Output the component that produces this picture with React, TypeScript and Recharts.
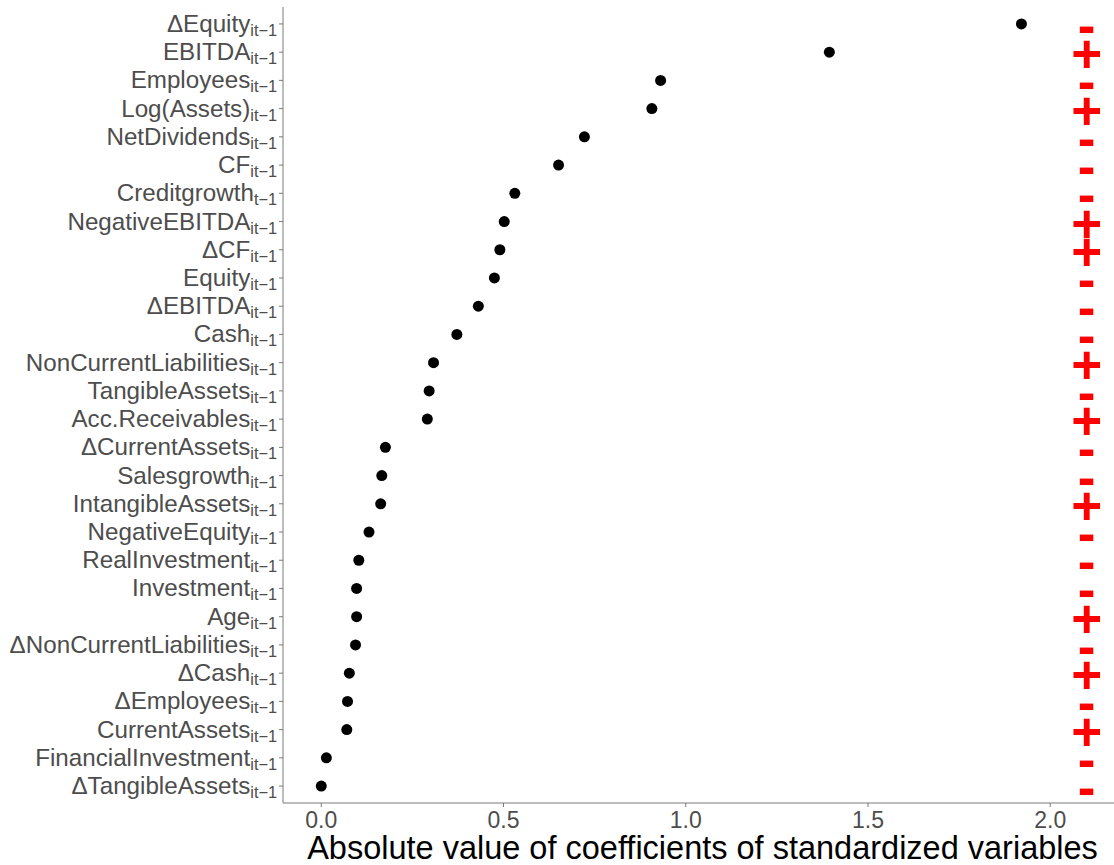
import React from 'react';
import { ScatterChart, Scatter, XAxis, YAxis } from 'recharts';

const labels = [
  'ΔEquity', 'EBITDA', 'Employees', 'Log(Assets)', 'NetDividends', 'CF', 'Creditgrowth',
  'NegativeEBITDA', 'ΔCF', 'Equity', 'ΔEBITDA', 'Cash', 'NonCurrentLiabilities', 'TangibleAssets',
  'Acc.Receivables', 'ΔCurrentAssets', 'Salesgrowth', 'IntangibleAssets', 'NegativeEquity',
  'RealInvestment', 'Investment', 'Age', 'ΔNonCurrentLiabilities', 'ΔCash', 'ΔEmployees',
  'CurrentAssets', 'FinancialInvestment', 'ΔTangibleAssets',
];

const subscripts = labels.map((l) => (l === 'Creditgrowth' ? 't−1' : 'it−1'));

const coefficients = [
  1.921, 1.394, 0.931, 0.907, 0.722, 0.651, 0.531, 0.502, 0.49, 0.475, 0.431, 0.372, 0.308, 0.296,
  0.291, 0.176, 0.166, 0.163, 0.131, 0.103, 0.097, 0.097, 0.094, 0.077, 0.072, 0.07, 0.014, 0.0,
];

const signs = [
  '-', '+', '-', '+', '-', '-', '-', '+', '+', '-', '-', '-', '+', '-',
  '+', '-', '-', '+', '-', '-', '-', '+', '-', '+', '-', '+', '-', '-',
];

const signX = 2.1;
const xTicks = [0, 0.5, 1, 1.5, 2];

const N = labels.length;
const dotData = coefficients.map((v, i) => ({ x: v, y: N - i }));
const signData = signs.map((s, i) => ({ x: signX, y: N - i, sign: s }));
const yTicks = labels.map((_, i) => N - i);

const FONT = '"Liberation Sans", Arial, Helvetica, sans-serif';

const YTick = (props: any) => {
  const { x, y, payload } = props;
  const idx = N - payload.value;
  return (
    <text x={x} y={y + 8} textAnchor="end" fontFamily={FONT} fill="#4D4D4D">
      <tspan fontSize={24.2}>{labels[idx]}</tspan>
      <tspan fontSize={16.3} dy={4}>{subscripts[idx]}</tspan>
    </text>
  );
};

const XTick = (props: any) => {
  const { x, y, payload } = props;
  return (
    <text x={x} y={y + 19} textAnchor="middle" fontFamily={FONT} fontSize={23} fill="#4D4D4D">
      {payload.value.toFixed(1)}
    </text>
  );
};

const XTitle = (props: any) => {
  const vb = props.viewBox || {};
  return (
    <text
      x={vb.x + vb.width / 2 + 4}
      y={vb.y + 56}
      textAnchor="middle"
      fontFamily={FONT}
      fontSize={32.5}
      fill="#000"
    >
      Absolute value of coefficients of standardized variables
    </text>
  );
};

const Dot = (props: any) => <circle cx={props.cx} cy={props.cy} r={5.5} fill="#000" />;

const Sign = (props: any) => (
  <text
    x={props.cx}
    y={props.cy + 20}
    textAnchor="middle"
    fontFamily={FONT}
    fontWeight="bold"
    fontSize={53}
    fill="#FF0000"
  >
    {props.payload.sign}
  </text>
);

export default function App() {
  return (
    <div style={{ position: 'absolute', left: 0, top: 0, width: 1114, height: 865, overflow: 'hidden', background: '#fff' }}>
      <ScatterChart width={1114} height={865} margin={{ top: 7, right: 0, bottom: 0, left: 0 }}>
        <XAxis
          type="number"
          dataKey="x"
          domain={[-0.105, 2.175]}
          ticks={xTicks}
          allowDataOverflow
          height={62}
          tickSize={4}
          tickMargin={2}
          stroke="#7a7a7a"
          tick={<XTick />}
          label={<XTitle />}
        />
        <YAxis
          type="number"
          dataKey="y"
          domain={[0.4, N + 0.6]}
          ticks={yTicks}
          interval={0}
          allowDataOverflow
          width={283}
          tickSize={4}
          tickMargin={2}
          stroke="#7a7a7a"
          tick={<YTick />}
        />
        <Scatter data={dotData} shape={<Dot />} isAnimationActive={false} />
        <Scatter data={signData} shape={<Sign />} isAnimationActive={false} />
      </ScatterChart>
    </div>
  );
}
